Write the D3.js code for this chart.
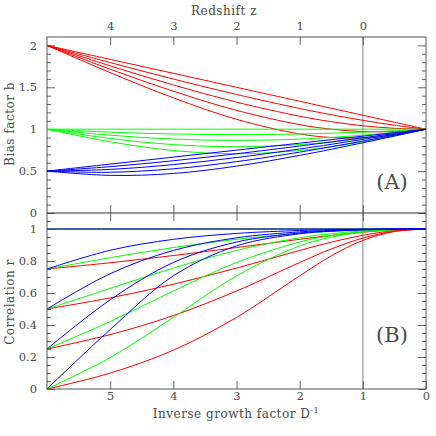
<!DOCTYPE html>
<html>
<head>
<meta charset="utf-8">
<script src="https://cdn.jsdelivr.net/npm/d3@7"></script>
<style>
body{margin:0;background:#fff;}
text{font-family:"DejaVu Serif",serif;fill:#4a4a4a;}
</style>
</head>
<body>
<div class="chart"></div>
<script>
// inverse growth factor samples (left = formation at D^-1 = 6)
const dInv = [6, 5, 4, 3, 2, 1.5, 1, 0.5, 0];
const zTicks = [0, 1, 2, 3, 4];
const dTicks = [0, 1, 2, 3, 4, 5];
const r0Values = [1, 0.75, 0.5, 0.25, 0];

// bias b(D^-1), one row per initial correlation r0
const biasB2 = [
    [2, 1.8333, 1.6667, 1.5, 1.3333, 1.25, 1.1667, 1.0833, 1],
    [2, 1.7951, 1.5986, 1.4142, 1.2472, 1.1726, 1.1055, 1.0475, 1],
    [2, 1.7559, 1.5275, 1.3229, 1.1547, 1.0897, 1.0408, 1.0104, 1],
    [2, 1.7159, 1.4530, 1.2247, 1.0541, 1.0, 0.9718, 0.9718, 1],
    [2, 1.6750, 1.3744, 1.1180, 0.9428, 0.9014, 0.8975, 0.9317, 1]
];
const biasB1 = [
    [1, 1, 1, 1, 1, 1, 1, 1, 1],
    [1, 0.9647, 0.9428, 0.9354, 0.9428, 0.9520, 0.9647, 0.9807, 1],
    [1, 0.9280, 0.8819, 0.8660, 0.8819, 0.9014, 0.9280, 0.9611, 1],
    [1, 0.8898, 0.8165, 0.7906, 0.8165, 0.8478, 0.8898, 0.9410, 1],
    [1, 0.8498, 0.7454, 0.7071, 0.7454, 0.7906, 0.8498, 0.9205, 1]
];
const biasB05 = [
    [0.5, 0.5833, 0.6667, 0.75, 0.8333, 0.875, 0.9167, 0.9583, 1],
    [0.5, 0.5528, 0.6236, 0.7071, 0.7993, 0.8478, 0.8975, 0.9483, 1],
    [0.5, 0.5204, 0.5774, 0.6614, 0.7638, 0.8197, 0.8780, 0.9382, 1],
    [0.5, 0.4859, 0.5271, 0.6124, 0.7265, 0.7906, 0.8580, 0.9280, 1],
    [0.5, 0.4488, 0.4714, 0.5590, 0.6872, 0.7604, 0.8375, 0.9176, 1]
];

// correlation r(D^-1)
const corrB2 = [
    [1, 1, 1, 1, 1, 1, 1, 1, 1],
    [0.75, 0.7892, 0.8341, 0.8839, 0.9354, 0.9594, 0.9799, 0.9945, 1],
    [0.5, 0.5695, 0.6547, 0.7559, 0.8660, 0.9177, 0.9608, 0.9898, 1],
    [0.25, 0.3400, 0.4588, 0.6124, 0.7906, 0.875, 0.9432, 0.9861, 1],
    [0, 0.0995, 0.2425, 0.4472, 0.7071, 0.8321, 0.9285, 0.9839, 1]
];
const corrB1 = [
    [1, 1, 1, 1, 1, 1, 1, 1, 1],
    [0.75, 0.8207, 0.8839, 0.9354, 0.9723, 0.9848, 0.9935, 0.9984, 1],
    [0.5, 0.6286, 0.7559, 0.8660, 0.9449, 0.9707, 0.9878, 0.9972, 1],
    [0.25, 0.4215, 0.6124, 0.7906, 0.9186, 0.9584, 0.9834, 0.9963, 1],
    [0, 0.1961, 0.4472, 0.7071, 0.8944, 0.9487, 0.9806, 0.9959, 1]
];
const corrB05 = [
    [1, 1, 1, 1, 1, 1, 1, 1, 1],
    [0.75, 0.8669, 0.9354, 0.9723, 0.9905, 0.9952, 0.9981, 0.9996, 1],
    [0.5, 0.7206, 0.8660, 0.9449, 0.9820, 0.9912, 0.9966, 0.9993, 1],
    [0.25, 0.5574, 0.7906, 0.9186, 0.9750, 0.9882, 0.9956, 0.9991, 1],
    [0, 0.3714, 0.7071, 0.8944, 0.9702, 0.9864, 0.9950, 0.9990, 1]
];

const left = 47, right = 426, topA = 37, midY = 213, botB = 389;

const svg = d3.select(".chart").append("svg")
    .attr("width", 436)
    .attr("height", 436);

const xScale = d3.scaleLinear().domain([6, 0]).range([left, right]);
const zScale = d3.scaleLinear().domain([5, -1]).range([left, right]);
const yA = d3.scaleLinear().domain([0, 2.1]).range([midY, topA]);
const yB = d3.scaleLinear().domain([0, 1.1]).range([botB, midY]);

function drawAxis(axis, tx, ty) {
    const g = svg.append("g")
        .attr("class", "axis")
        .attr("transform", `translate(${tx},${ty})`)
        .call(axis);
    g.select(".domain").remove();
    g.selectAll("line").attr("stroke", "#666");
    g.selectAll("text")
        .attr("font-size", 11.5)
        .attr("fill", "#4a4a4a")
        .style("font-family", '"DejaVu Serif", serif');
    return g;
}

const minorA = d3.range(0, 21).map(d => d / 10).filter(d => Math.round(d * 10) % 5 != 0);
const minorB = d3.range(0, 22).map(d => d / 20).filter(d => Math.round(d * 20) % 4 != 0);
const fmt = d => String(d);

// vertical line at z = 0
svg.append("line")
    .attr("x1", xScale(1)).attr("x2", xScale(1))
    .attr("y1", topA).attr("y2", botB)
    .attr("stroke", "#aaa")
    .attr("stroke-width", 1.5);

// panel A axes
drawAxis(d3.axisLeft(yA).tickValues([0, 0.5, 1, 1.5, 2]).tickSizeInner(-8).tickSizeOuter(0).tickPadding(10).tickFormat(fmt), left, 0);
drawAxis(d3.axisLeft(yA).tickValues(minorA).tickSizeInner(-4).tickSizeOuter(0).tickFormat(""), left, 0);
drawAxis(d3.axisRight(yA).tickValues([0, 0.5, 1, 1.5, 2]).tickSizeInner(-8).tickSizeOuter(0).tickFormat(""), right, 0);
drawAxis(d3.axisRight(yA).tickValues(minorA).tickSizeInner(-4).tickSizeOuter(0).tickFormat(""), right, 0);
drawAxis(d3.axisTop(zScale).tickValues(zTicks).tickSizeInner(-8).tickSizeOuter(0).tickPadding(7).tickFormat(fmt), 0, topA);
drawAxis(d3.axisBottom(xScale).tickValues([1, 2, 3, 4, 5]).tickSizeInner(-8).tickSizeOuter(0).tickFormat(""), 0, midY);

// panel B axes
drawAxis(d3.axisLeft(yB).tickValues([0, 0.2, 0.4, 0.6, 0.8, 1]).tickSizeInner(-8).tickSizeOuter(0).tickPadding(10).tickFormat(fmt), left, 0);
drawAxis(d3.axisLeft(yB).tickValues(minorB).tickSizeInner(-4).tickSizeOuter(0).tickFormat(""), left, 0);
drawAxis(d3.axisRight(yB).tickValues([0, 0.2, 0.4, 0.6, 0.8, 1]).tickSizeInner(-8).tickSizeOuter(0).tickFormat(""), right, 0);
drawAxis(d3.axisRight(yB).tickValues(minorB).tickSizeInner(-4).tickSizeOuter(0).tickFormat(""), right, 0);
drawAxis(d3.axisTop(xScale).tickValues([1, 2, 3, 4, 5]).tickSizeInner(-8).tickSizeOuter(0).tickFormat(""), 0, midY);
drawAxis(d3.axisBottom(xScale).tickValues(dTicks).tickSizeInner(-8).tickSizeOuter(0).tickPadding(3).tickFormat(fmt), 0, botB);

// frames
svg.append("rect")
    .attr("x", left).attr("y", topA)
    .attr("width", right - left).attr("height", botB - topA)
    .attr("fill", "none")
    .attr("stroke", "#555");
svg.append("line")
    .attr("x1", left).attr("x2", right)
    .attr("y1", midY).attr("y2", midY)
    .attr("stroke", "#333");

const curve = d3.curveCatmullRom.alpha(0.5);
const lineA = d3.line().x((d, i) => xScale(dInv[i])).y(d => yA(d)).curve(curve);
const lineB = d3.line().x((d, i) => xScale(dInv[i])).y(d => yB(d)).curve(curve);

const seriesA = [
    {rows: biasB2, color: "#ff0000"},
    {rows: biasB1, color: "#00ff00"},
    {rows: biasB05, color: "#0000ff"}
];
const seriesB = [
    {rows: corrB2, color: "#ff0000"},
    {rows: corrB1, color: "#00ff00"},
    {rows: corrB05, color: "#0000ff"}
];

seriesA.forEach(s => {
    svg.append("g").selectAll("path")
        .data(s.rows)
        .enter()
        .append("path")
        .attr("d", lineA)
        .attr("fill", "none")
        .attr("stroke", s.color)
        .attr("stroke-width", 1);
});
seriesB.forEach(s => {
    svg.append("g").selectAll("path")
        .data(s.rows)
        .enter()
        .append("path")
        .attr("d", lineB)
        .attr("fill", "none")
        .attr("stroke", s.color)
        .attr("stroke-width", 1);
});

// labels
svg.append("text")
    .attr("x", 224).attr("y", 15)
    .attr("text-anchor", "middle")
    .attr("font-size", 12)
    .attr("letter-spacing", 0.5)
    .text("Redshift z");

const xLabel = svg.append("text")
    .attr("x", 236).attr("y", 418)
    .attr("text-anchor", "middle")
    .attr("font-size", 12)
    .attr("letter-spacing", 0.5)
    .text("Inverse growth factor D");
xLabel.append("tspan")
    .attr("font-size", 8)
    .attr("dy", -5)
    .text("-1");

svg.append("text")
    .attr("transform", "translate(14,124) rotate(-90)")
    .attr("text-anchor", "middle")
    .attr("font-size", 12)
    .attr("letter-spacing", 0.5)
    .text("Bias factor b");
svg.append("text")
    .attr("transform", "translate(14,302) rotate(-90)")
    .attr("text-anchor", "middle")
    .attr("font-size", 12)
    .attr("letter-spacing", 0.5)
    .text("Correlation r");

svg.append("text")
    .attr("x", 392).attr("y", 189)
    .attr("text-anchor", "middle")
    .attr("font-size", 21)
    .attr("fill", "#1a1a1a")
    .text("(A)");
svg.append("text")
    .attr("x", 392).attr("y", 342)
    .attr("text-anchor", "middle")
    .attr("font-size", 21)
    .attr("fill", "#1a1a1a")
    .text("(B)");
</script>
</body>
</html>
